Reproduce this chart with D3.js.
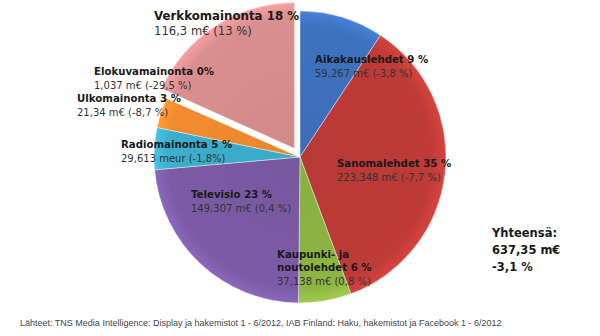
<!DOCTYPE html>
<html><head><meta charset="utf-8">
<script src="https://cdn.jsdelivr.net/npm/d3@7"></script>
<style>
html,body{margin:0;padding:0;background:#fff;}
svg{display:block;font-family:"DejaVu Sans","Liberation Sans",sans-serif;}
</style></head>
<body><svg id="c" width="600" height="336"></svg>
<script>
// Data
const categories = ["Aikakauslehdet", "Sanomalehdet", "Kaupunki- ja noutolehdet", "Televisio", "Radiomainonta", "Ulkomainonta", "Elokuvamainonta", "Verkkomainonta"];
const values = [59.267, 223.348, 37.138, 149.307, 29.613, 21.34, 1.037, 116.3];
const titleLines = [["Aikakauslehdet  9 %"], ["Sanomalehdet  35 %"], ["Kaupunki- ja", "noutolehdet 6 %"], ["Televisio 23 %"], ["Radiomainonta 5 %"], ["Ulkomainonta 3 %"], ["Elokuvamainonta 0%"], ["Verkkomainonta 18 %"]];
const detailLines = ["59,267 m€ (-3,8 %)", "223,348 m€ (-7,7 %)", "37,138 m€ (0,8 %)", "149,307 m€ (0,4 %)", "29,613 meur (-1,8%)", "21,34 m€ (-8,7 %)", "1,037 m€ (-29,5 %)", "116,3 m€ (13 %)"];
const totalLines = ["Yhteensä:", "637,35 m€", "-3,1 %"];
const sourceText = "Lähteet: TNS Media Intelligence: Display ja hakemistot 1 - 6/2012, IAB Finland: Haku, hakemistot ja Facebook 1 - 6/2012";

// Styling / layout
const colors = ["#3d72bf", "#be3b37", "#8db543", "#7b5ba5", "#3bafcd", "#f28b30", "#ffffff", "#d98f8e"];
const explode = [0, 0, 0, 0, 0, 0, 0, 10];
const labelPos = [[315, 63], [337, 167], [277, 258], [191, 198], [121, 148], [77, 102], [94, 75], [154, 20]];
const titleSize = [10.2, 10.2, 10.2, 10.2, 10.2, 10.2, 10.2, 11.8];
const detailSize = [10, 10, 10, 10, 10, 10, 10, 11.6];

const svg = d3.select("#c");
const cx = 300, cy = 157, R = 146;

const pie = d3.pie().sort(null).value(d => d)(values);
const arc = d3.arc().innerRadius(0).outerRadius(R);

const defs = svg.append("defs");
colors.forEach((c, i) => {
  const g = defs.append("radialGradient").attr("id", "g" + i)
    .attr("gradientUnits", "userSpaceOnUse").attr("cx", 0).attr("cy", 0).attr("r", R);
  g.append("stop").attr("offset", "0%").attr("stop-color", d3.color(c).darker(0.1));
  g.append("stop").attr("offset", "90%").attr("stop-color", c);
  g.append("stop").attr("offset", "100%").attr("stop-color", d3.color(c).brighter(0.35));
});

const gPie = svg.append("g").attr("transform", `translate(${cx},${cy})`);
gPie.selectAll("path").data(pie).join("path")
  .attr("transform", (d, i) => {
    const a = (d.startAngle + d.endAngle) / 2;
    return `translate(${Math.sin(a) * explode[i]},${-Math.cos(a) * explode[i]})`;
  })
  .attr("d", arc)
  .attr("fill", (d, i) => `url(#g${i})`)
  .attr("stroke", "#ffffff").attr("stroke-opacity", 0.5).attr("stroke-width", 0.8);

const gLab = svg.append("g");
categories.forEach((c, i) => {
  const [x, y] = labelPos[i];
  const t = gLab.append("text").attr("x", x).attr("y", y).attr("fill", "#1a1a1a");
  titleLines[i].forEach((ln, j) => {
    t.append("tspan").attr("x", x).attr("dy", j === 0 ? 0 : 13)
      .attr("font-weight", "bold").attr("font-size", titleSize[i]).text(ln);
  });
  t.append("tspan").attr("x", x).attr("dy", i === 7 ? 15 : 13.5)
    .attr("font-size", detailSize[i]).attr("fill", "#333").text(detailLines[i]);
});

const tt = svg.append("text").attr("x", 492).attr("y", 237).attr("font-weight", "bold").attr("font-size", 11.5).attr("fill", "#1a1a1a");
totalLines.forEach((ln, j) => tt.append("tspan").attr("x", 492).attr("dy", j === 0 ? 0 : 17).text(ln));

svg.append("text").attr("x", 20).attr("y", 326).attr("font-family", "'Liberation Sans', Arial, sans-serif")
  .attr("font-size", 9).attr("fill", "#444").text(sourceText);
</script></body></html>
